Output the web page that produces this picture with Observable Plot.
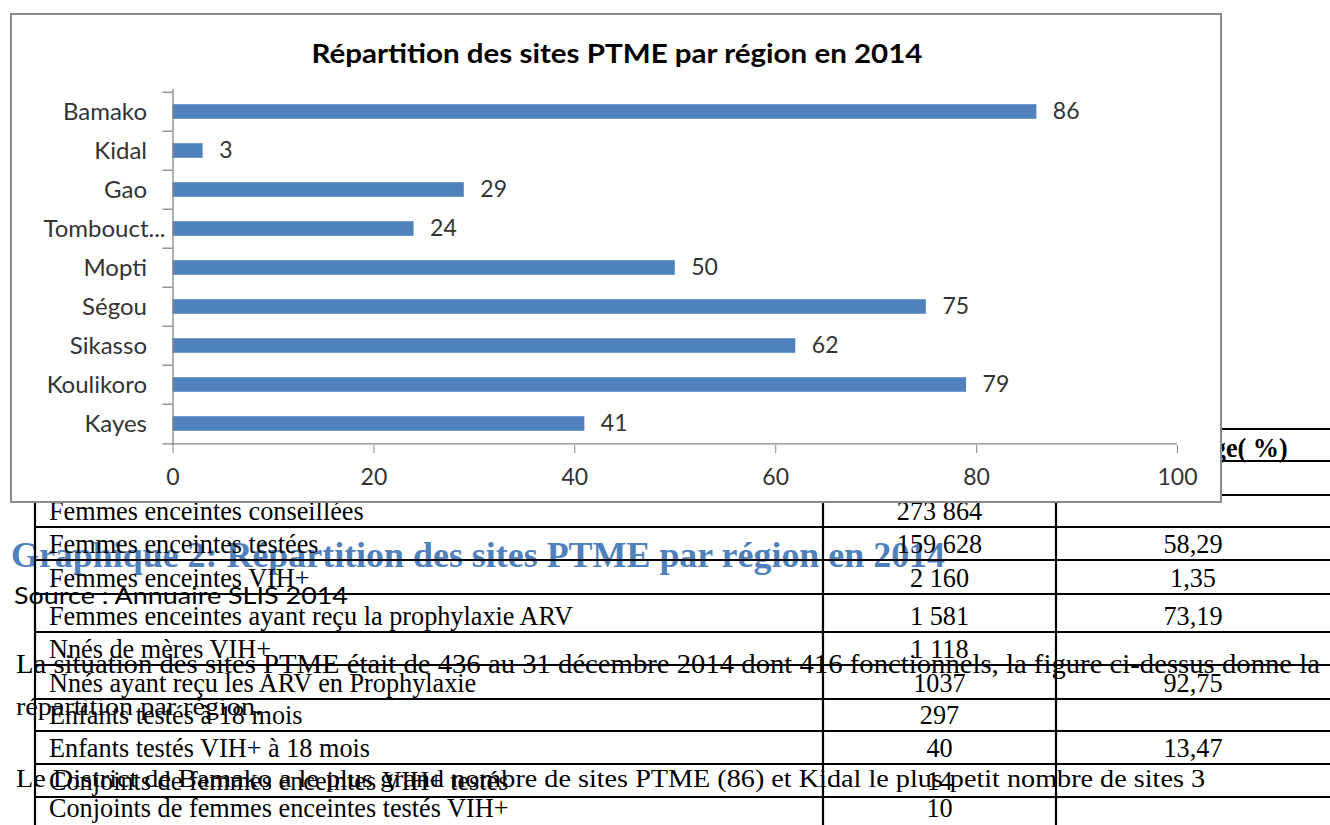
<!DOCTYPE html>
<html>
<head>
<meta charset="utf-8">
<script src="https://cdn.jsdelivr.net/npm/d3@7"></script>
<script src="https://cdn.jsdelivr.net/npm/@observablehq/plot@0.6"></script>
<style>
  html, body { margin: 0; padding: 0; background: #fff; width: 1330px; height: 825px; overflow: hidden; }
  #doc { position: absolute; left: 0; top: 0; }
  #box { position: absolute; left: 10px; top: 13px; width: 1208px; height: 486px; border: 2px solid #8a8a8a; background: #fff; }
  #chart { position: absolute; left: 0; top: 0; }
</style>
</head>
<body>
<svg id="doc" width="1330" height="825"></svg>
<div id="box"><div id="chart"></div></div>
<script>
// ---- chart data ----
const chartTitle = "Répartition des sites PTME par région en 2014";
const regions = ["Bamako", "Kidal", "Gao", "Tombouctou", "Mopti", "Ségou", "Sikasso", "Koulikoro", "Kayes"];
const sites = [86, 3, 29, 24, 50, 75, 62, 79, 41];
const xTicks = [0, 20, 40, 60, 80, 100];

// ---- document text ----
const captionText = "Graphique 2: Répartition des sites PTME par région en 2014";
const sourceText = "Source : Annuaire SLIS 2014";
const para1 = "La situation des sites PTME était de 436 au 31 décembre 2014 dont 416 fonctionnels, la figure ci-dessus donne la";
const para2 = "répartition par région.";
const para3 = "Le District de Bamako a le plus grand nombre de sites PTME (86) et Kidal le plus petit nombre de sites 3";

// ---- table data ----
const tableHeader = ["Indicateurs", "Nombre", "Pourcentage( %)"];
const indicators = [
  "Femmes enceintes conseillées",
  "Femmes enceintes testées",
  "Femmes enceintes VIH+",
  "Femmes enceintes ayant reçu la prophylaxie ARV",
  "Nnés de mères VIH+",
  "Nnés ayant reçu les ARV en Prophylaxie",
  "Enfants testés à 18 mois",
  "Enfants testés VIH+ à 18 mois",
  "Conjoints de femmes enceintes VIH+ testés",
  "Conjoints de femmes enceintes testés VIH+"
];
const counts = ["273 864", "159 628", "2 160", "1 581", "1 118", "1037", "297", "40", "14", "10"];
const percents = ["", "58,29", "1,35", "73,19", "", "92,75", "", "13,47", "", ""];

// ---- background document layer ----
const serif = "'Liberation Serif', 'Times New Roman', serif";
const doc = d3.select("#doc");

doc.append("text")
  .attr("x", 11).attr("y", 567)
  .attr("font-family", serif).attr("font-weight", "bold").attr("font-size", 36)
  .attr("fill", "#4F81BD")
  .attr("textLength", 934).attr("lengthAdjust", "spacingAndGlyphs")
  .text(captionText);

doc.append("text")
  .attr("x", 14).attr("y", 604)
  .attr("font-family", "Lato, sans-serif").attr("font-size", 24)
  .attr("fill", "#000")
  .attr("textLength", 334).attr("lengthAdjust", "spacingAndGlyphs")
  .text(sourceText);

doc.append("text")
  .attr("x", 16).attr("y", 673)
  .attr("font-family", serif).attr("font-size", 27).attr("fill", "#000")
  .attr("textLength", 1304).attr("lengthAdjust", "spacingAndGlyphs")
  .text(para1);
doc.append("text")
  .attr("x", 16).attr("y", 715)
  .attr("font-family", serif).attr("font-size", 26).attr("fill", "#000")
  .attr("textLength", 246).attr("lengthAdjust", "spacingAndGlyphs")
  .text(para2);
doc.append("text")
  .attr("x", 16).attr("y", 787)
  .attr("font-family", serif).attr("font-size", 26).attr("fill", "#000")
  .attr("textLength", 1189).attr("lengthAdjust", "spacingAndGlyphs")
  .text(para3);

// table layout
const rowLines = [429, 461, 495, 527, 560, 594, 632, 665, 699, 731, 764, 797, 830];
const colLines = [35, 823, 1056];
const colCenters = [429, 939.5, 1193];
const sx = 1.05, sy = 1.06;
const scaleAt = (x, y) => `translate(${x},${y}) scale(${sx},${sy}) translate(${-x},${-y})`;
const table = doc.append("g").attr("font-family", serif).attr("font-size", 25).attr("fill", "#000");
rowLines.forEach(y => table.append("line").attr("x1", 34).attr("x2", 1330).attr("y1", y).attr("y2", y).attr("stroke", "#000").attr("stroke-width", 2.2));
colLines.forEach(x => table.append("line").attr("x1", x).attr("x2", x).attr("y1", 428).attr("y2", 825).attr("stroke", "#000").attr("stroke-width", 2.2));
tableHeader.forEach((h, j) => table.append("text")
  .attr("x", colCenters[j]).attr("y", 457).attr("text-anchor", "middle")
  .attr("transform", scaleAt(colCenters[j], 457))
  .attr("font-weight", "bold").text(h));
indicators.forEach((name, i) => {
  const yb = Math.min(rowLines[i + 3] - 7, 817);
  table.append("text").attr("x", 49).attr("y", yb)
    .attr("transform", scaleAt(49, yb))
    .text(name);
  table.append("text").attr("x", colCenters[1]).attr("y", yb).attr("text-anchor", "middle")
    .attr("transform", scaleAt(colCenters[1], yb))
    .text(counts[i]);
  if (percents[i]) table.append("text").attr("x", colCenters[2]).attr("y", yb).attr("text-anchor", "middle")
    .attr("transform", scaleAt(colCenters[2], yb))
    .text(percents[i]);
});

// ---- chart ----
const data = regions.map((r, i) => ({region: r, value: sites[i]}));
const W = 1208, H = 486, mT = 74, mB = 56, mL = 160.5, mR = 43;
const step = (H - mT - mB) / regions.length;
const axisGray = "#868686";
const chart = Plot.plot({
  width: W, height: H,
  marginLeft: mL, marginRight: mR, marginTop: mT, marginBottom: mB,
  style: {fontFamily: "Lato, sans-serif", fontSize: "23px", color: "#333", background: "transparent"},
  x: {domain: [0, 100], label: null},
  y: {domain: regions, padding: 0, label: null},
  marks: [
    Plot.barX(data, {x: "value", y: "region", fill: "#4F81BD", insetTop: 12.2, insetBottom: 12.2}),
    Plot.text(data, {x: "value", y: "region", text: d => String(d.value), textAnchor: "start", dx: 16, fill: "#333"}),
    Plot.ruleX([0], {stroke: axisGray, strokeWidth: 1.3}),
    Plot.ruleY(regions, {y: d => d, x1: -1, x2: 0, dy: -step / 2, stroke: axisGray, strokeWidth: 1.3}),
    Plot.ruleY([regions[regions.length - 1]], {y: d => d, x1: -1, x2: 100, dy: step / 2, stroke: axisGray, strokeWidth: 1.3}),
    Plot.axisX(xTicks, {tickSize: 8, tickPadding: 15, stroke: axisGray, fill: "#333", label: null}),
    Plot.axisY(regions.filter(r => r !== "Tombouctou"), {tickSize: 0, tickPadding: 26, fill: "#333", fontSize: 24, label: null}),
    Plot.axisY(["Tombouctou"], {tickSize: 0, tickPadding: 7.5, fill: "#333", fontSize: 24, label: null, tickFormat: () => "Tombouct..."})
  ]
});
d3.select(chart).append("text")
  .attr("x", 605).attr("y", 48).attr("text-anchor", "middle")
  .attr("font-family", "Lato, sans-serif").attr("font-weight", "bold").attr("font-size", 27)
  .attr("fill", "#000")
  .attr("textLength", 611).attr("lengthAdjust", "spacingAndGlyphs")
  .text(chartTitle);
document.getElementById("chart").appendChild(chart);
</script>
</body>
</html>
